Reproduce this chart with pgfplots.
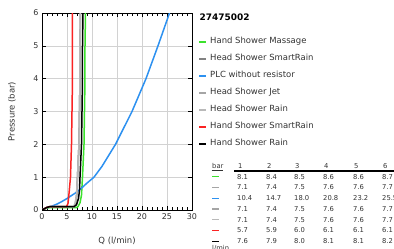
\documentclass[border=0pt]{standalone}
\usepackage{fontspec}
\setmainfont{DejaVu Sans}
\usepackage{pgfplots}
\pgfplotsset{compat=1.18}
\definecolor{cgreen}{RGB}{60,225,45}
\definecolor{cgray}{RGB}{165,165,165}
\definecolor{cgrayd}{RGB}{130,130,130}
\definecolor{cgrayl}{RGB}{185,185,185}
\definecolor{cblue}{RGB}{45,145,240}
\definecolor{cred}{RGB}{250,35,35}
\definecolor{ctext}{RGB}{50,50,50}
\newcommand\trow[8]{%
  \draw[#2, line width=1.5bp] (212,#1) -- (219,#1);
  \node[anchor=base west, inner sep=0] at (237,{#1-2.5}) {#3};
  \node[anchor=base west, inner sep=0] at (266,{#1-2.5}) {#4};
  \node[anchor=base west, inner sep=0] at (294,{#1-2.5}) {#5};
  \node[anchor=base west, inner sep=0] at (323,{#1-2.5}) {#6};
  \node[anchor=base west, inner sep=0] at (353,{#1-2.5}) {#7};
  \node[anchor=base west, inner sep=0] at (382,{#1-2.5}) {#8};
}
\begin{document}
\begin{tikzpicture}
\path[use as bounding box] (0,0) rectangle (394bp,249bp);
\begin{axis}[
  at={(42bp,39bp)}, anchor=south west,
  width=150bp, height=197bp, scale only axis,
  xmin=0, xmax=30, ymin=0, ymax=6,
  xtick={0,5,...,30}, ytick={0,1,...,6},
  minor x tick num=4,
  tick align=inside, tick pos=both,
  major tick length=4bp, minor tick length=3bp,
  grid=major, major grid style={gray!35, line width=0.5bp},
  axis line style={black, line width=0.7bp},
  every tick/.style={black, line width=0.6bp},
  tick label style={font=\fontsize{8}{9.6}\selectfont, text=ctext},
  /pgf/number format/assume math mode=true,
  xlabel={Q (l/min)}, ylabel={Pressure (bar)},
  label style={font=\fontsize{8.5}{10}\selectfont, text=ctext},
  xlabel style={at={(axis description cs:0.5,-0.157)}, anchor=center},
  ylabel style={at={(axis description cs:-0.2,0.5)}, anchor=center},
  legend style={at={(axis description cs:1.04,0.883)}, anchor=north west,
    draw=none, fill=none, inner sep=0pt, row sep=6.5bp, column sep=2bp,
    font=\fontsize{8.5}{10}\selectfont, text=ctext,
    nodes={inner sep=1bp, text height=6.5bp, text depth=2bp}},
  legend cell align=left,
  legend image code/.code={\draw[#1, line width=2bp] (0bp,0bp) -- (7bp,0bp);},
  every axis plot/.append style={line width=1.5bp, line join=round},
]
\addplot[cgreen] coordinates {(0,0) (0.5,0.03) (1,0.06) (1.5,0.07) (6.8,0.07) (7.2,0.1) (7.6,0.22) (7.9,0.45) (8.1,1) (8.4,2) (8.5,3) (8.6,4) (8.6,5) (8.7,6)};
\addlegendentry{Hand Shower Massage}
\addplot[cgrayd] coordinates {(0,0) (0.5,0.04) (1,0.08) (1.5,0.1) (6.4,0.1) (6.7,0.2) (6.9,0.45) (7.1,1) (7.4,2) (7.5,3) (7.6,4) (7.6,5) (7.7,6)};
\addlegendentry{Head Shower SmartRain}
\addplot[cblue] coordinates {(0,0) (1,0.07) (2,0.12) (3,0.18) (4,0.26) (5,0.35) (6,0.45) (7,0.55) (8,0.68) (9,0.82) (10.4,1) (12,1.33) (14.7,2) (18,3) (20.8,4) (23.2,5) (25.5,6)};
\addlegendentry{PLC without resistor}
\addplot[cgray] coordinates {(0,0) (0.5,0.04) (1,0.08) (1.5,0.1) (6.5,0.1) (6.8,0.2) (7.0,0.45) (7.1,1) (7.4,2) (7.5,3) (7.6,4) (7.6,5) (7.7,6)};
\addlegendentry{Head Shower Jet}
\addplot[cgrayl] coordinates {(0,0) (0.5,0.04) (1,0.08) (1.5,0.1) (6.3,0.1) (6.6,0.2) (6.9,0.45) (7.1,1) (7.4,2) (7.5,3) (7.6,4) (7.6,5) (7.7,6)};
\addlegendentry{Head Shower Rain}
\addplot[cred] coordinates {(0,0) (0.5,0.04) (1,0.08) (1.5,0.1) (4.9,0.1) (5.2,0.2) (5.4,0.5) (5.7,1) (5.9,2) (6.0,3) (6.1,4) (6.1,5) (6.1,6)};
\addlegendentry{Hand Shower SmartRain}
\addplot[black] coordinates {(0,0) (0.5,0.04) (1,0.08) (1.5,0.1) (6.4,0.1) (6.9,0.16) (7.3,0.35) (7.5,0.6) (7.6,1) (7.9,2) (8.0,3) (8.1,4) (8.1,5) (8.2,6)};
\addlegendentry{Hand Shower Rain}
\end{axis}
\begin{scope}[x=1bp, y=1bp]
\node[anchor=west, inner sep=0, font=\bfseries\fontsize{9}{11}\selectfont] at (199.5,232) {27475002};
\begin{scope}[font=\fontsize{6.8}{8}\selectfont, text=ctext]
\node[anchor=base west, inner sep=0] at (212,80.2) {bar};
\node[anchor=base west, inner sep=0] at (238,80.2) {1};
\node[anchor=base west, inner sep=0] at (267,80.2) {2};
\node[anchor=base west, inner sep=0] at (295,80.2) {3};
\node[anchor=base west, inner sep=0] at (324,80.2) {4};
\node[anchor=base west, inner sep=0] at (354,80.2) {5};
\node[anchor=base west, inner sep=0] at (383,80.2) {6};
\draw[ctext, line width=0.5bp] (211.5,78.5) -- (223,78.5);
\draw[black, line width=1.2bp] (234,78) -- (400,78);
\trow{72.3}{cgreen}{8.1}{8.4}{8.5}{8.6}{8.6}{8.7}
\trow{61.7}{cgray}{7.1}{7.4}{7.5}{7.6}{7.6}{7.7}
\trow{50.7}{cblue}{10.4}{14.7}{18.0}{20.8}{23.2}{25.5}
\trow{40}{cgray}{7.1}{7.4}{7.5}{7.6}{7.6}{7.7}
\trow{29.3}{cgrayl}{7.1}{7.4}{7.5}{7.6}{7.6}{7.7}
\trow{18.7}{cred}{5.7}{5.9}{6.0}{6.1}{6.1}{6.1}
\trow{7.7}{black}{7.6}{7.9}{8.0}{8.1}{8.1}{8.2}
\node[anchor=base west, inner sep=0] at (212,-1.5) {l/min};
\end{scope}
\end{scope}
\end{tikzpicture}
\end{document}
